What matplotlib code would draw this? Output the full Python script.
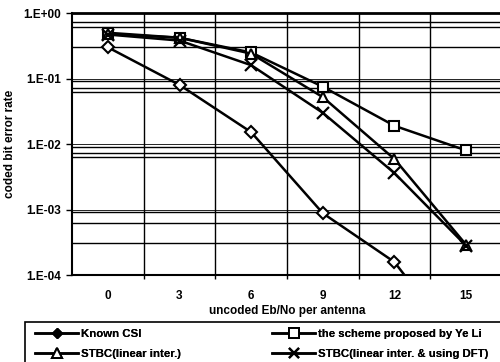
import matplotlib
matplotlib.use("Agg")
import matplotlib.pyplot as plt
from matplotlib.lines import Line2D
from matplotlib.patches import Rectangle

plt.rcParams['font.family'] = ['Liberation Sans', 'DejaVu Sans']

snr_labels = ["0", "3", "6", "9", "12", "15"]
known_csi = [0.30, 0.080, 0.0152, 0.00088, 0.000158, 0.000006]
ye_li = [0.50, 0.42, 0.25, 0.075, 0.019, 0.0080]
stbc_linear = [0.48, 0.42, 0.24, 0.052, 0.0059, 0.00029]
stbc_dft = [0.47, 0.38, 0.16, 0.030, 0.0036, 0.00028]

series_names = ["Known CSI", "the scheme proposed by Ye Li",
                "STBC(linear inter.)", "STBC(linear inter. & using DFT)"]
series_values = [known_csi, ye_li, stbc_linear, stbc_dft]
series_markers = ["D", "s", "^", "x"]

# horizontal rule positions
hgrid = [0.73, 0.61, 0.30, 0.092, 0.072, 0.062, 0.0090, 0.0073, 0.0063,
         0.00092, 0.00062, 0.00031]
ytick_vals = [1e0, 1e-1, 1e-2, 1e-3, 1e-4]
ytick_labels = ["1.E+00", "1.E-01", "1.E-02", "1.E-03", "1.E-04"]

fig = plt.figure(figsize=(5.0, 3.62), dpi=100)
ax = fig.add_axes([0.144, 0.240, 0.860, 0.724])
ax.set_yscale('log')
ax.set_ylim(1e-4, 1e0)
ax.set_xlim(-0.5, 5.5)

x = list(range(len(snr_labels)))
for vals, mk in zip(series_values, series_markers):
    if mk == "x":
        ax.plot(x, vals, color='black', lw=1.8, marker='x', ms=8, mew=1.6,
                zorder=3)
    else:
        ax.plot(x, vals, color='black', lw=1.8, marker=mk,
                ms=7 if mk != "D" else 6.5, mfc='white', mec='black', mew=1.5,
                zorder=3)

for v in hgrid:
    ax.axhline(v, color='black', lw=1.0, zorder=1)
for v in ytick_vals[1:-1]:
    ax.axhline(v, color='black', lw=0.6, zorder=1)
for b in [0.5, 1.5, 2.5, 3.5, 4.5]:
    ax.axvline(b, color='black', lw=1.0, zorder=1)

ax.set_yticks(ytick_vals)
ax.set_yticklabels(ytick_labels, fontsize=8.5, fontweight='bold')
ax.yaxis.set_minor_locator(matplotlib.ticker.NullLocator())
ax.set_xticks(x)
ax.set_xticklabels(snr_labels, fontsize=8.5, fontweight='bold')
ax.set_xticks([0.5, 1.5, 2.5, 3.5, 4.5], minor=True)
ax.tick_params(axis='x', which='major', length=0, pad=11)
ax.tick_params(axis='x', which='minor', length=3, width=1, direction='out')
ax.tick_params(axis='y', which='major', length=4, width=1, direction='out', pad=4)

for s in ['left', 'bottom']:
    ax.spines[s].set_linewidth(1.5)
ax.spines['top'].set_linewidth(2.0)
ax.spines['right'].set_visible(False)

ax.set_xlabel("uncoded Eb/No per antenna", fontsize=8.5, fontweight='bold',
              labelpad=2)
ax.set_ylabel("coded bit error rate", fontsize=8.5, fontweight='bold',
              labelpad=5)


def make_handle(mk):
    if mk == "D":
        return Line2D([], [], color='black', lw=1.8, marker='D', ms=5.5,
                      mfc='black', mec='black')
    if mk == "x":
        return Line2D([], [], color='black', lw=1.8, marker='x', ms=7.5, mew=1.6)
    return Line2D([], [], color='black', lw=1.8, marker=mk, ms=6.5,
                  mfc='white', mec='black', mew=1.4)


col_specs = [([0, 2], 0.061), ([1, 3], 0.535)]
for idx, xa in col_specs:
    lg = fig.legend([make_handle(series_markers[i]) for i in idx],
                    [series_names[i] for i in idx],
                    loc='upper left', bbox_to_anchor=(xa, 0.103),
                    prop={'size': 8.2, 'weight': 'bold'}, frameon=False,
                    handlelength=3.8, handletextpad=0.2, labelspacing=0.85,
                    borderaxespad=0)
    fig.add_artist(lg)

fig.add_artist(Rectangle((0.05, -0.02), 1.0, 0.131, transform=fig.transFigure,
                         fill=False, edgecolor='black', lw=1.2))

fig.savefig("out.png", dpi=100)
